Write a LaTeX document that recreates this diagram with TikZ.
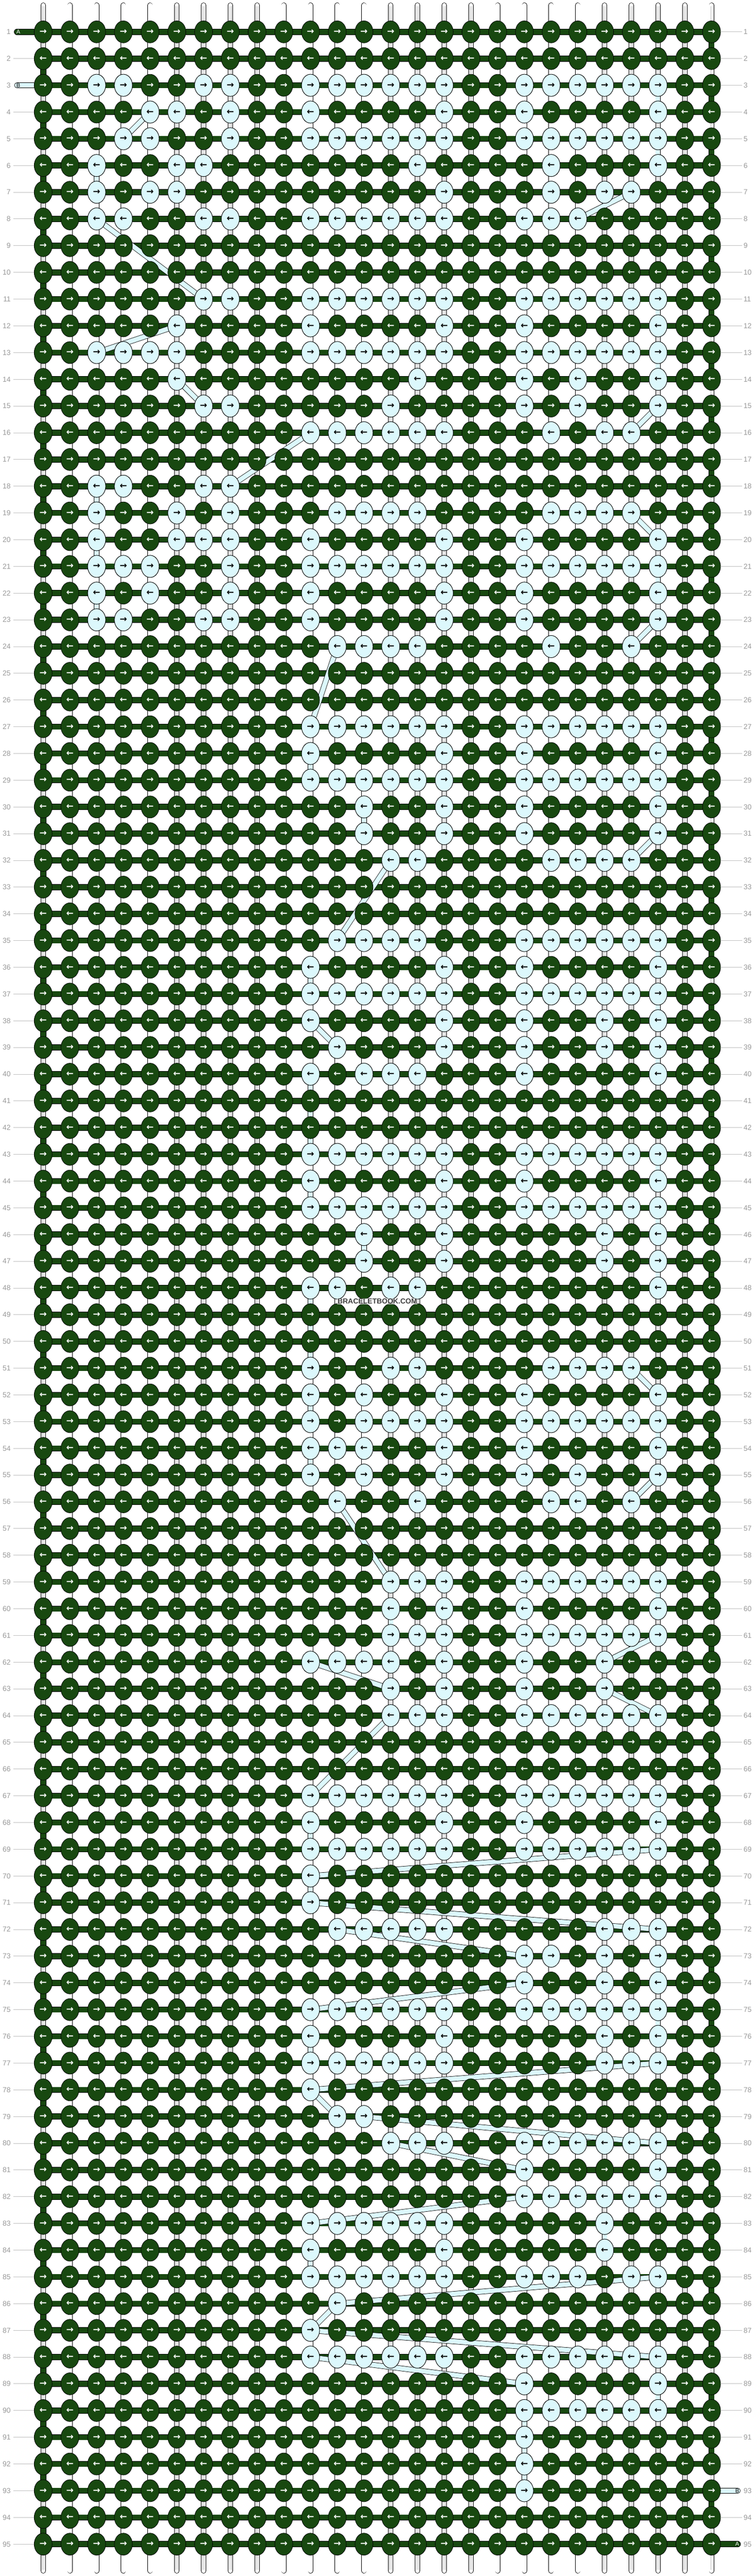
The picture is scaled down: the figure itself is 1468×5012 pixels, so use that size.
\documentclass[tikz,border=0pt]{standalone}
\usepackage{fontspec}
\setmainfont{Liberation Sans}
\newfontfamily\arrowfont{DejaVu Sans}
\usepackage{tikz}
\usetikzlibrary{positioning}
\definecolor{threadA}{RGB}{24,72,16}
\definecolor{threadB}{RGB}{220,248,252}
\pgfdeclarelayer{bg}
\pgfsetlayers{bg,main}
\tikzset{
    knotg/.style = {fill=threadA, draw=black, line width=0.8pt},
    knotb/.style = {fill=threadB, draw=black, line width=0.8pt},
    knotsize/.style = {x radius=17.5pt, y radius=21.5pt},
    arrowrow/.style = {inner sep=0pt, text=white, font=\arrowfont\bfseries\fontsize{17}{17}\selectfont},
    threadg/.style = {draw=black, line width=0.8pt, double=threadA, double distance=10pt},
    threadb/.style = {draw=black, line width=0.8pt, double=threadB, double distance=9pt},
    stringw/.style = {draw=black, line width=0.8pt, double=white, double distance=8.5pt, line cap=round},
    stringm/.style = {draw=black!25, line width=0.6pt, double=white, double distance=2.4pt},
    rownum/.style = {text=black!40, font=\fontsize{14}{14}\selectfont, inner sep=0pt},
    rowline/.style = {draw=black!25, line width=1pt},
    stubtext/.style = {font=\fontsize{11}{11}\selectfont, inner sep=0pt}
}

\begin{document}
\begin{tikzpicture}[x=1pt, y=-1pt]
  \useasboundingbox (0,0) rectangle (1468,5012);
  \begin{pgfonlayer}{bg}
    \fill[white] (0,0) rectangle (1468,5012);
  \end{pgfonlayer}

  \foreach \row in {1,...,95}
    \foreach \col in {1,...,26}
      \coordinate (k-\row-\col) at ({84+52*(\col-1)},{62+52*(\row-1)});

  % knots, A first
  \foreach \row in {1,...,95}
    \path[knotg] \foreach \col in {1,...,26} {(k-\row-\col) ellipse [knotsize]};

  % knots tied with B
  \foreach \row/\cols in {
    3/{3,4,7,8,11,12,13,14,15,16,19,20,21,22,23,24}, 4/{5,6,8,11,16,19,24},
    5/{4,5,8,11,12,13,14,15,16,19,20,21,22,23,24}, 6/{3,6,7,15,20,24},
    7/{3,5,6,16,20,22,23}, 8/{3,4,7,8,11,12,13,14,15,16,19,20,21},
    11/{7,8,11,12,13,14,15,16,19,20,21,22,23,24}, 12/{6,11,16,19,24},
    13/{3,4,5,6,11,12,13,14,15,16,19,20,21,22,23,24}, 14/{6,15,19,21,24},
    15/{7,8,14,19,21,24}, 16/{11,12,13,14,15,16,20,22,23},
    18/{3,4,7,8}, 19/{3,6,8,12,13,14,15,20,21,22,23},
    20/{3,6,7,8,11,16,19,24}, 21/{3,4,5,8,11,12,13,14,15,16,19,20,21,22,23,24},
    22/{3,5,8,11,16,19,24}, 23/{3,4,7,8,11,16,19,24}, 24/{12,13,14,15,20,23},
    27/{11,12,13,14,15,16,19,20,21,22,23,24}, 28/{11,16,19,24},
    29/{11,12,13,14,15,16,19,20,21,22,23,24}, 30/{13,16,19,24}, 31/{13,16,19,24},
    32/{14,15,20,21,22,23}, 35/{12,13,14,15,19,20,21,22,23,24}, 36/{11,16,19,24},
    37/{11,12,13,14,15,16,19,20,21,22,23,24}, 38/{11,16,19,22,24},
    39/{12,16,19,22,24}, 40/{11,13,14,15,19,24},
    43/{11,12,13,14,15,16,19,20,21,22,23,24}, 44/{11,16,19,24},
    45/{11,12,13,14,15,16,19,20,21,22,23,24}, 46/{13,16,22,24}, 47/{13,16,22,24},
    48/{11,12,14,15,24}, 51/{11,14,15,20,21,22,23}, 52/{11,13,16,19,24},
    53/{11,13,14,15,16,19,20,21,22,23,24}, 54/{11,12,13,16,19,24},
    55/{11,13,16,19,21,24}, 56/{12,15,20,21,23},
    59/{14,15,16,19,20,21,22,23,24}, 60/{14,16,19,24},
    61/{14,15,16,19,20,21,22,23,24}, 62/{11,12,13,14,16,19,22},
    63/{14,16,19,22}, 64/{14,15,16,19,20,21,22,23,24},
    67/{11,12,13,14,15,16,19,20,21,22,23,24}, 68/{11,16,19,24},
    69/{11,12,13,14,15,16,19,20,21,22,23,24}, 70/{11}, 71/{11},
    72/{12,13,14,15,16,22,23,24}, 73/{19,20,22,24}, 74/{19,22,24},
    75/{11,12,13,14,15,16,19,20,21,22,23,24}, 76/{11,16,22,24},
    77/{11,12,13,14,15,16,22,23,24}, 78/{11}, 79/{12,13},
    80/{14,15,16,19,20,21,22,23,24}, 81/{19,24}, 82/{19,20,21,22,23,24},
    83/{11,12,13,14,15,16,22}, 84/{11,16,22},
    85/{11,12,13,14,15,16,19,20,21,23,24}, 86/{12}, 87/{11},
    88/{11,12,13,14,15,16,19,20,21,22,23,24}, 89/{19,24},
    90/{19,20,21,22,23,24}, 91/{19}, 92/{19}, 93/{19}}
  {
    \path[knotb] \foreach \col in \cols {(k-\row-\col) ellipse [knotsize]};
    \foreach \col in \cols {\expandafter\xdef\csname blue-\row-\col\endcsname{1}}
  }

  % arrows and row numbers
  \foreach \row in {1,...,95} {
    \ifodd\row \def\karrow{→}\else \def\karrow{←}\fi
    \node[arrowrow] (arr-\row) at (734,{62+52*(\row-1)}) {\foreach \col in {1,...,26}{\makebox[52pt]{\ifcsname blue-\row-\col\endcsname\color{black}\fi\karrow}}};
    \node[rownum, anchor=east] (nl-\row) at (21,{62+52*(\row-1)}) {\row};
    \node[rownum, anchor=west] (nr-\row) at (1446,{62+52*(\row-1)}) {\row};
  }

  \coordinate (a-in) at (33,62);
  \coordinate (b-in) at (33,166);
  \coordinate (b-out) at (1435,4846);
  \coordinate (a-out) at (1435,4950);

  \begin{pgfonlayer}{bg}
    \foreach \col in {1,...,26} {
      \coordinate (top-\col) at ({84+52*(\col-1)},10);
      \coordinate (bot-\col) at ({84+52*(\col-1)},5002);
      \draw[stringw] (top-\col) -- (bot-\col);
      \draw[stringm, shorten <=2pt, shorten >=2pt] (top-\col) -- (bot-\col);
    }
    \foreach \row in {1,3,...,93} {
      \pgfmathtruncatemacro\next{\row+1}
      \draw[threadg] (k-\row-26) -- (k-\next-26);
    }
    \foreach \row in {2,4,...,94} {
      \pgfmathtruncatemacro\next{\row+1}
      \draw[threadg] (k-\row-1) -- (k-\next-1);
    }
    \foreach \row in {1,...,95}
      \draw[threadg] (k-\row-1) -- (k-\row-26);
    \draw[threadg, line cap=round] (a-in) -- (k-1-1);
    \draw[threadg, line cap=round] (k-95-26) -- (a-out);
    \draw[threadb, line cap=round] (b-in) -- (k-3-1);
    \draw[threadb, line cap=round] (k-93-26) -- (b-out);
    \foreach \ra/\ca/\rb/\cb in {3/24/4/24, 4/5/5/4, 5/24/6/24, 6/3/7/3, 7/23/8/21,
      8/3/11/7, 11/24/12/24, 12/6/13/3, 13/24/14/24, 14/6/15/7, 15/24/16/23,
      16/11/18/8, 18/3/19/3, 19/23/20/24, 20/3/21/3, 21/24/22/24, 22/3/23/3,
      23/24/24/23, 24/12/27/11, 27/24/28/24, 28/11/29/11, 29/24/30/24, 30/13/31/13,
      31/24/32/23, 32/14/35/12, 35/24/36/24, 36/11/37/11, 37/24/38/24, 38/11/39/12,
      39/24/40/24, 40/11/43/11, 43/24/44/24, 44/11/45/11, 45/24/46/24, 46/13/47/13,
      47/24/48/24, 48/11/51/11, 51/23/52/24, 52/11/53/11, 53/24/54/24, 54/11/55/11,
      55/24/56/23, 56/12/59/14, 59/24/60/24, 60/14/61/14, 61/24/62/22, 62/11/63/14,
      63/22/64/24, 64/14/67/11, 67/24/68/24, 68/11/69/11, 69/24/70/11, 70/11/71/11,
      71/11/72/24, 72/12/73/19, 73/24/74/24, 74/19/75/11, 75/24/76/24, 76/11/77/11,
      77/24/78/11, 78/11/79/12, 79/13/80/24, 80/14/81/19, 81/24/82/24, 82/19/83/11,
      83/22/84/22, 84/11/85/11, 85/24/86/12, 86/12/87/11, 87/11/88/24, 88/11/89/19,
      89/24/90/24, 90/19/91/19, 91/19/92/19, 92/19/93/19}
      \draw[threadb] (k-\ra-\ca) -- (k-\rb-\cb);
  \end{pgfonlayer}

  \foreach \row in {2,4,5,...,95}
    \draw[rowline, shorten <=5pt, shorten >=17.5pt] (nl-\row.east) -- (k-\row-1);
  \foreach \row in {1,...,92,94}
    \draw[rowline, shorten <=17.5pt, shorten >=3pt] (k-\row-26) -- (nr-\row.west);

  \node[stubtext, text=white] (lbl-a-in) at (35.5,62) {A};
  \node[stubtext] (lbl-b-in) at (35.5,166) {B};
  \node[stubtext] (lbl-b-out) at (1434,4846) {B};
  \node[stubtext, text=white] (lbl-a-out) at (1434,4950) {A};

  \node[font=\bfseries\fontsize{14}{14}\selectfont, text=black!75, fill=white, fill opacity=0.55, text opacity=1, inner sep=1pt] (wm) at (734,2532) {BRACELETBOOK.COM};
\end{tikzpicture}
\end{document}
